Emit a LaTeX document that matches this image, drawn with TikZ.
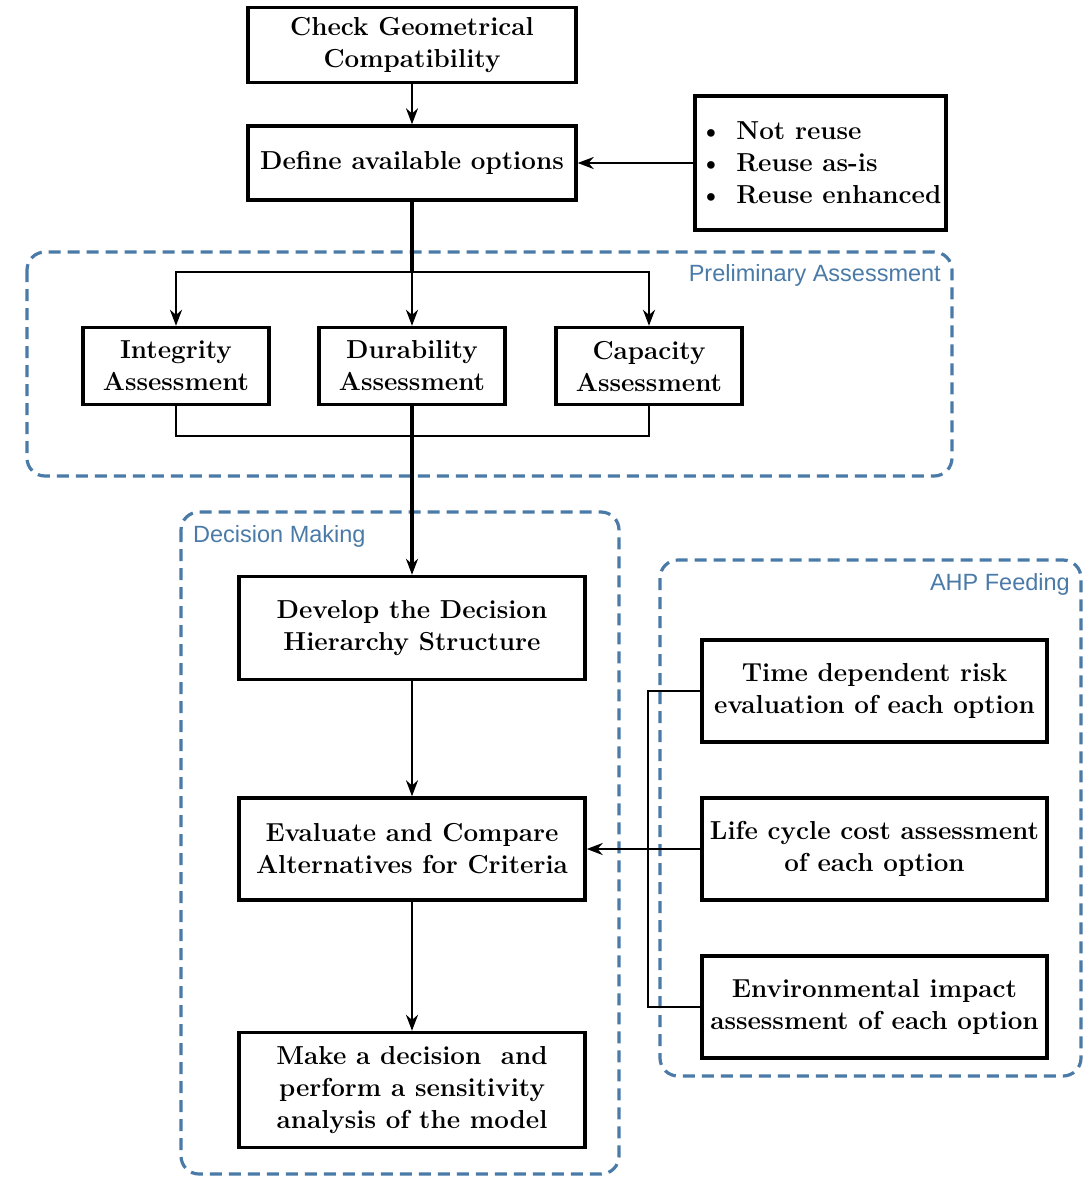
\documentclass[tikz,border=0pt]{standalone}
\usepackage{fontspec}
\newfontfamily\labelfont{Liberation Sans}
\usetikzlibrary{arrows.meta}
\definecolor{dashblue}{RGB}{74,122,168}
\tikzset{
 box/.style={draw, line width=3.4pt, align=center, font=\fontsize{26}{32}\selectfont\bfseries, inner sep=0pt},
 conn/.style={line width=2.6pt},
 trunk/.style={line width=3.6pt},
 arr/.style={-{Stealth[length=16pt,width=12pt]}},
 group/.style={draw=dashblue, line width=3.2pt, dash pattern=on 12pt off 7pt, rounded corners=18pt},
 grouplabel/.style={text=dashblue, font=\labelfont\fontsize{23.5}{26}\selectfont, inner sep=0pt},
}
\begin{document}
\begin{tikzpicture}[x=1pt,y=-1pt]
\useasboundingbox (0,0) rectangle (1092,1178);
% groups
\draw[group] (27,252) rectangle (952,476);
\node[grouplabel, anchor=east] (lprelim) at (941,275) {Preliminary Assessment};
\draw[group] (181,512) rectangle (619,1174);
\node[grouplabel, anchor=west] (ldecision) at (193,536) {Decision Making};
\draw[group] (660,560) rectangle (1081,1076);
\node[grouplabel, anchor=east] (lahp) at (1070,584) {AHP Feeding};
% nodes
\node[box, minimum width=328pt, minimum height=75pt] (check) at (412,45) {Check Geometrical\\Compatibility};
\node[box, minimum width=328pt, minimum height=74pt] (define) at (412,163) {Define available options};
\node[box, minimum width=251pt, minimum height=134pt, align=left] (opts) at (820.5,163)
 {\textbullet\hspace{14pt}Not reuse\\\textbullet\hspace{14pt}Reuse as-is\\\textbullet\hspace{14pt}Reuse enhanced};
\node[box, minimum width=186pt, minimum height=77pt] (integ) at (176,366) {Integrity\\Assessment};
\node[box, minimum width=186pt, minimum height=77pt] (dura) at (412,366) {Durability\\Assessment};
\node[box, minimum width=186pt, minimum height=77pt] (capac) at (649,366) {Capacity\\Assessment};
\node[box, minimum width=346pt, minimum height=103pt] (develop) at (412,628) {Develop the Decision\\Hierarchy Structure};
\node[box, minimum width=346pt, minimum height=102pt] (eval) at (412,849) {Evaluate and Compare\\Alternatives for Criteria};
\node[box, minimum width=346pt, minimum height=115pt] (make) at (412,1090) {Make a decision\ \ and\\perform a sensitivity\\analysis of the model};
\node[box, minimum width=345pt, minimum height=102pt] (time) at (874.5,691) {Time dependent risk\\evaluation of each option};
\node[box, minimum width=345pt, minimum height=102pt] (life) at (874.5,849) {Life cycle cost assessment\\of each option};
\node[box, minimum width=345pt, minimum height=102pt] (env) at (874.5,1007) {Environmental impact\\assessment of each option};
% connectors
\draw[conn, arr] (check) -- (define);
\draw[conn, arr] (opts) -- (define);
\coordinate (t1) at (412,272);
\draw[trunk] (define.south) -- (t1);
\draw[conn, arr] (t1) -- (dura.north);
\draw[conn, arr] (t1) -| (integ.north);
\draw[conn, arr] (t1) -| (capac.north);
\coordinate (b1) at (412,436);
\draw[conn] (integ.south) |- (b1);
\draw[conn] (capac.south) |- (b1);
\draw[trunk, arr] (dura.south) -- (develop.north);
\draw[conn, arr] (develop) -- (eval);
\draw[conn, arr] (eval) -- (make);
\coordinate (bus) at (648,849);
\draw[conn] (time.west) -| (bus) |- (env.west);
\draw[conn, arr] (life.west) -- (eval.east);
\end{tikzpicture}
\end{document}
